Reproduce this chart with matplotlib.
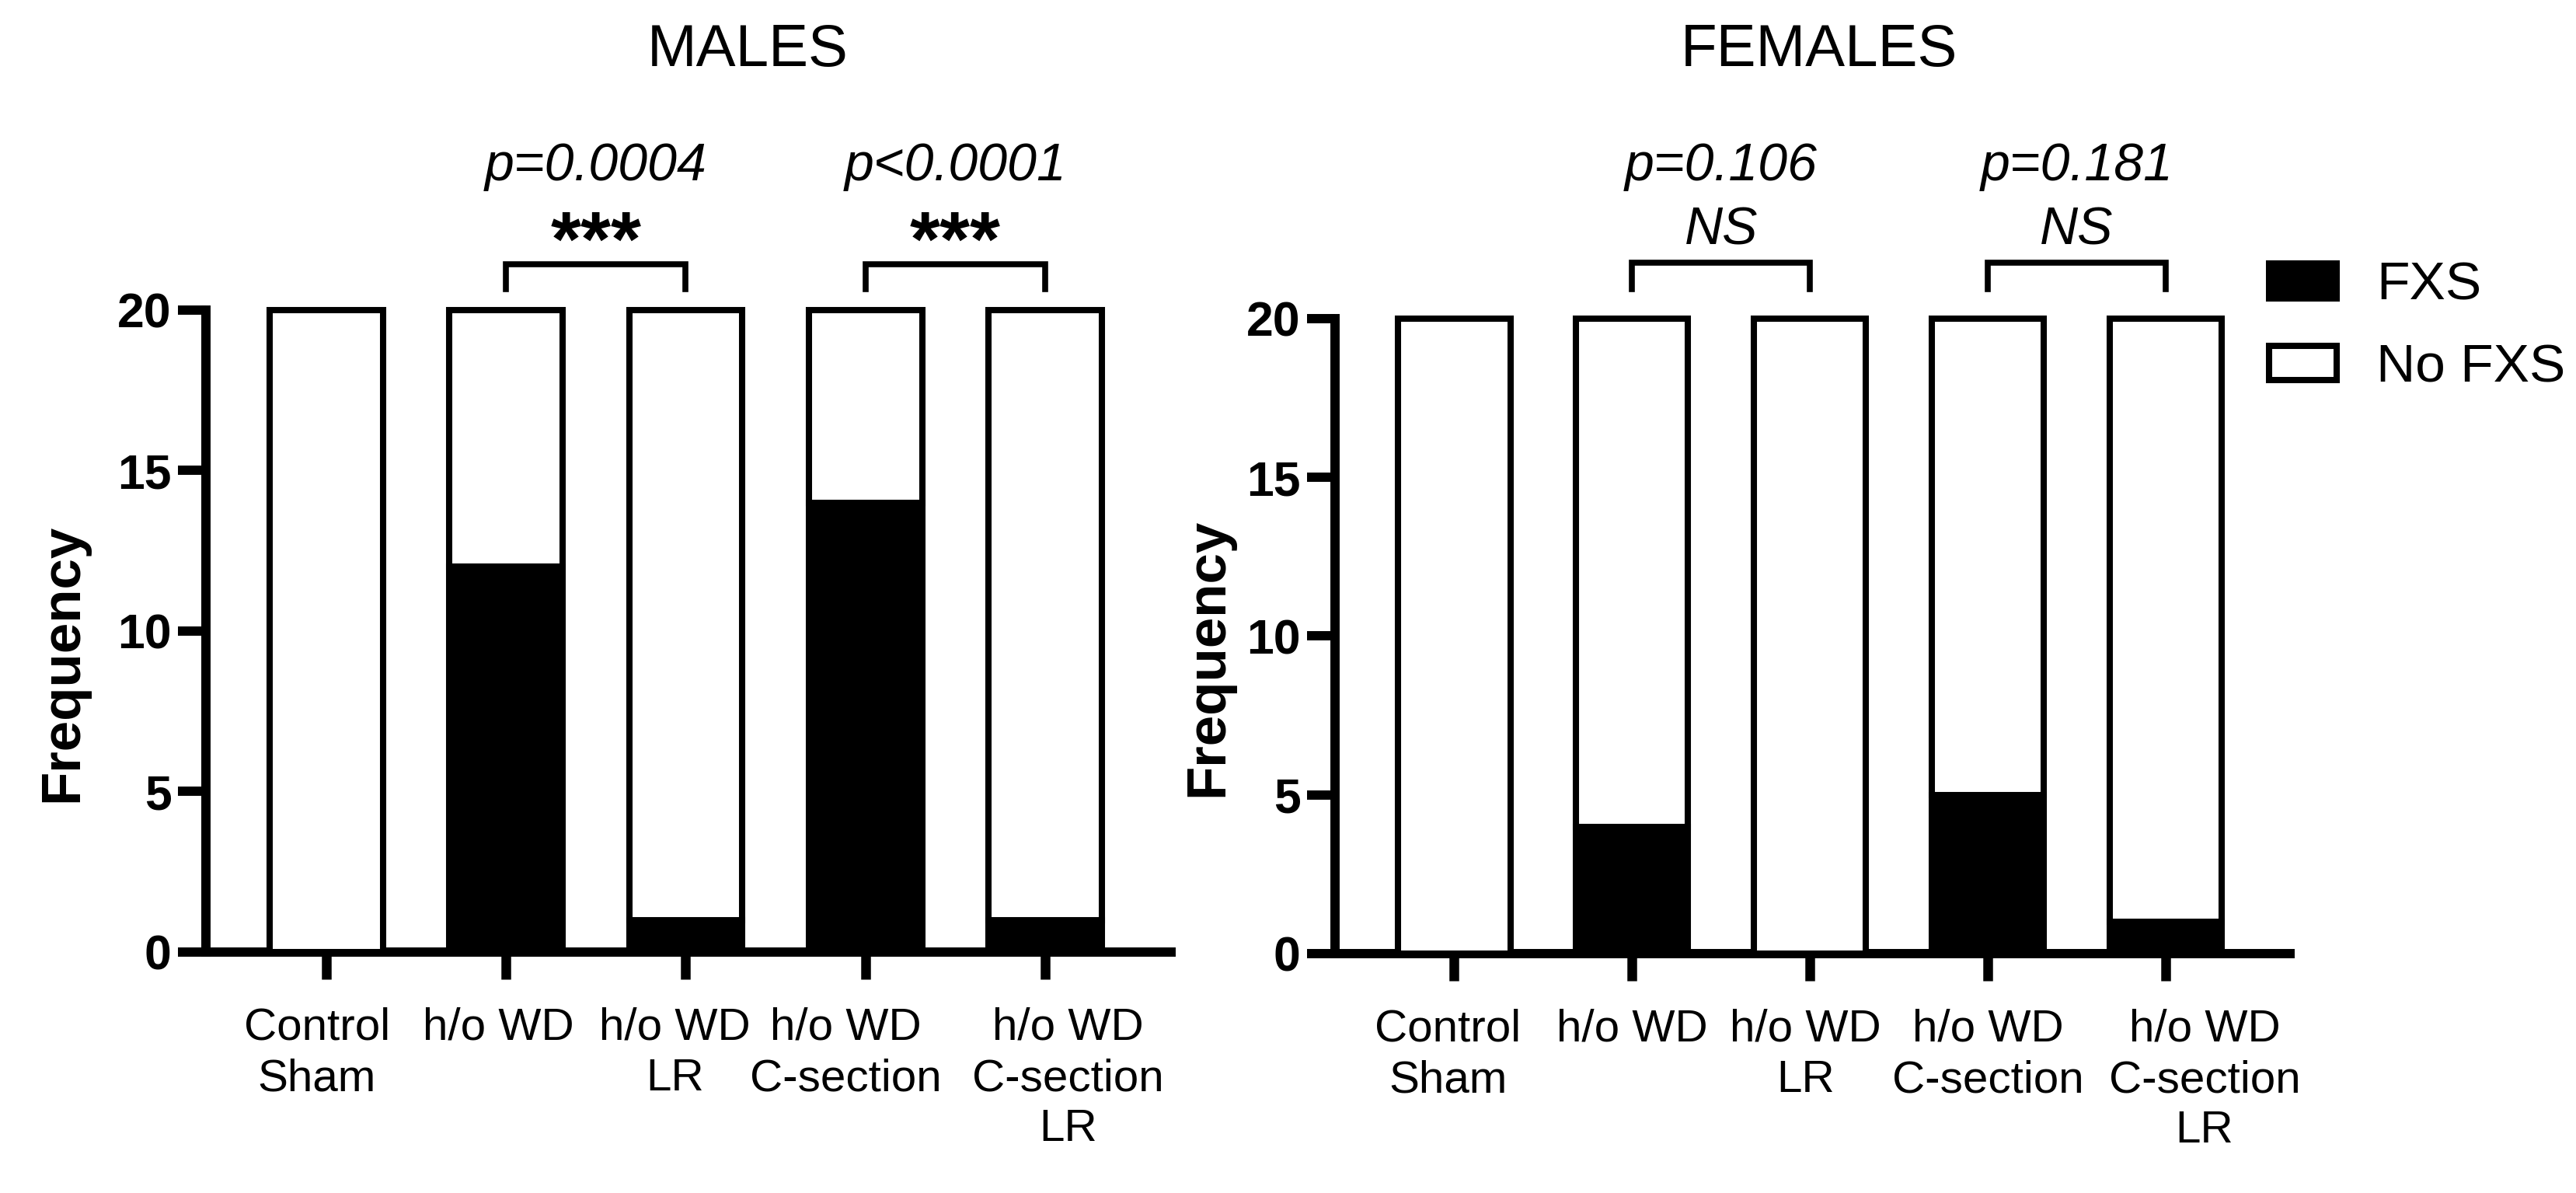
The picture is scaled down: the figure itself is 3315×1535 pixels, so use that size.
import matplotlib
matplotlib.use("Agg")
import matplotlib.pyplot as plt
import matplotlib.transforms as mtransforms
import numpy as np

plt.rcParams['font.family'] = ['Liberation Sans', 'DejaVu Sans']

groups = ["Control\nSham", "h/o WD", "h/o WD\nLR", "h/o WD\nC-section", "h/o WD\nC-section\nLR"]
total = 20
males_fxs = [0, 12, 1, 14, 1]
females_fxs = [0, 4, 0, 5, 1]

males_p = ["p=0.0004", "p<0.0001"]
males_sig = ["***", "***"]
females_p = ["p=0.106", "p=0.181"]
females_sig = ["NS", "NS"]
pairs = [(1, 2), (3, 4)]

# Prism nudges crowded category labels sideways (pixels)
males_lab_dx = [-12, -10, -14, -25, 29]
females_lab_dx = [-8, 0, -6, 0, 50]

fig = plt.figure(figsize=(33.15, 15.35), dpi=100)
ax1 = fig.add_axes([0.0799, 0.2020, 0.3747, 0.5381])
ax2 = fig.add_axes([0.5183, 0.2007, 0.3707, 0.5322])

x = np.arange(len(groups))
bar_w = 0.63
edge_lw = 5.8
xtick_len = 25
xtick_pad = 26


def draw_panel(ax, fxs, title, ptexts, sigs, sig_bold, br_top, br_bot, p_y, s_y,
               title_x, lab_dx):
    fxs = np.array(fxs)
    nofxs = total - fxs
    ax.bar(x, fxs, bar_w, color='black', edgecolor='black', linewidth=edge_lw,
           label='FXS', clip_on=False, zorder=3)
    ax.bar(x, nofxs, bar_w, bottom=fxs, color='white', edgecolor='black',
           linewidth=edge_lw, label='No FXS', clip_on=False, zorder=3)
    ax.set_xlim(-0.67, 4.70)
    ax.set_ylim(0, 20)
    ax.set_yticks([0, 5, 10, 15, 20])
    ax.set_xticks(x)
    ax.set_xticklabels([])
    # category labels drawn as text so they can be nudged like in Prism
    for xi, g, dx in zip(x, groups, lab_dx):
        off = mtransforms.ScaledTranslation(dx / 100, -(xtick_len + xtick_pad) / 72,
                                            fig.dpi_scale_trans)
        ax.text(xi, 0, g, transform=ax.get_xaxis_transform() + off,
                ha='center', va='top', fontsize=42, linespacing=1.27,
                multialignment='center')
    for lab in ax.get_yticklabels():
        lab.set_fontsize(45)
        lab.set_fontweight('bold')
    ax.tick_params(axis='y', length=26, width=8.6, pad=6)
    ax.tick_params(axis='x', length=xtick_len, width=9)
    for s in ['top', 'right']:
        ax.spines[s].set_visible(False)
    for s in ['left', 'bottom']:
        ax.spines[s].set_linewidth(8.6)
    ax.set_ylabel('Frequency', fontsize=51, fontweight='bold')

    for (a, b), pt, sg in zip(pairs, ptexts, sigs):
        ax.plot([a, a, b, b], [br_bot, br_top, br_top, br_bot], color='black',
                lw=5.5, clip_on=False, solid_joinstyle='miter')
        mid = (a + b) / 2
        ax.text(mid, p_y, pt, ha='center', va='baseline', fontsize=49,
                fontstyle='italic')
        if sig_bold:
            ax.text(mid, s_y, sg, ha='center', va='baseline', fontsize=72,
                    fontweight='bold')
        else:
            ax.text(mid, s_y, sg, ha='center', va='baseline', fontsize=49,
                    fontstyle='italic')

    fig.text(title_x, 1 - 65 / 1535, title, ha='center', va='center', fontsize=55)


draw_panel(ax1, males_fxs, 'MALES', males_p, males_sig, True,
           21.43, 20.65, 24.04, 21.38, 962 / 3315, males_lab_dx)
ax1.yaxis.set_label_coords(-0.121, 0.45)

draw_panel(ax2, females_fxs, 'FEMALES', females_p, females_sig, False,
           21.76, 20.93, 24.36, 22.33, 2341 / 3315, females_lab_dx)
ax2.yaxis.set_label_coords(-0.106, 0.466)

h, l = ax2.get_legend_handles_labels()
fig.legend(h, l, loc='upper left', bbox_to_anchor=(2920 / 3315, 1 - 336 / 1535),
           frameon=False, fontsize=50, handlelength=1.25, handleheight=0.6,
           handletextpad=0.74, labelspacing=0.6, borderpad=0, borderaxespad=0)

fig.savefig('out.png', dpi=100)
